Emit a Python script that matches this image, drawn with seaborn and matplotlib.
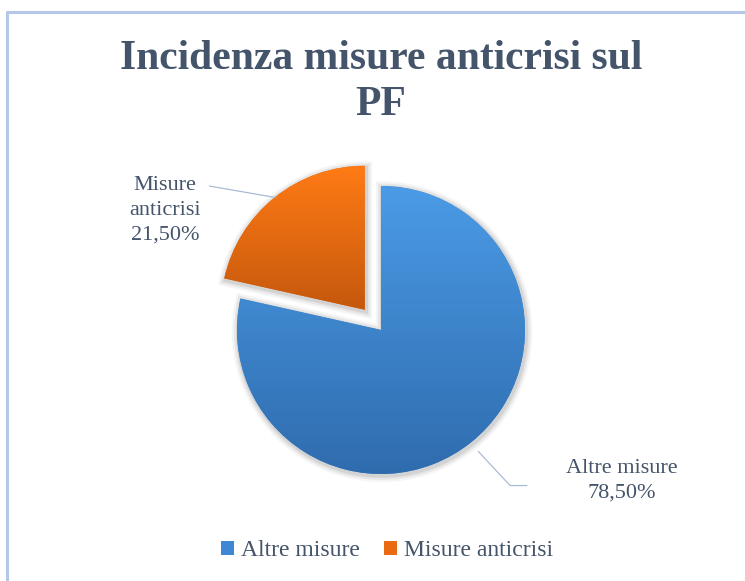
import numpy as np
import seaborn as sns
from matplotlib import pyplot as plt
from matplotlib.colors import LinearSegmentedColormap
from matplotlib.lines import Line2D
from matplotlib.patches import Patch, Wedge

categories = ["Altre misure", "Misure anticrisi"]
values = [78.5, 21.5]
value_labels = ["78,50%", "21,50%"]
label_texts = ["Altre misure", "Misure\nanticrisi"]
title = "Incidenza misure anticrisi sul\nPF"

top_colors = ["#4B9BE6", "#FF7B15"]
bottom_colors = ["#2F6CAE", "#C5580D"]
legend_colors = ["#3F87D4", "#E96A10"]
text_color = "#44546A"
line_color = "#A9BBD6"

sns.set_theme(style="white")
plt.rcParams["font.family"] = ["Liberation Serif", "DejaVu Serif"]

W, H = 745, 581
fig = plt.figure(figsize=(W / 100, H / 100), dpi=100)
fig.patch.set_facecolor("white")

# light blue frame, only the left and top edges are visible
frame_kw = dict(transform=fig.transFigure, color="#B4C7E7", lw=2.2)
fig.add_artist(Line2D([7 / W, 7 / W], [0, 1 - 12 / H], **frame_kw))
fig.add_artist(Line2D([7 / W, 1], [1 - 12 / H, 1 - 12 / H], **frame_kw))

# pie axes: centre (381, 330) px, radius 144 px, limits +-L
cx, cy, r = 381, 330, 144
L = 1.6
ax = fig.add_axes([(cx - L * r) / W, (H - cy - L * r) / H, 2 * L * r / W, 2 * L * r / H])
ax.set_axis_off()

explode = [0, 0.18]
wedges, _ = ax.pie(values, startangle=90, counterclock=False, explode=explode,
                   colors=legend_colors, radius=1,
                   wedgeprops=dict(linewidth=0))

for w, c_top, c_bot in zip(wedges, top_colors, bottom_colors):
    # soft shadow around the slice
    for lw, a in [(9, 0.04), (6, 0.06), (3, 0.08)]:
        sh = Wedge((w.center[0] + 0.008, w.center[1] - 0.012), w.r, w.theta1, w.theta2,
                   facecolor="none", edgecolor="black", lw=lw, alpha=a, zorder=0.5)
        ax.add_patch(sh)
    # vertical gradient inside the slice
    ext = w.get_path().get_extents()
    cmap = LinearSegmentedColormap.from_list("g", [c_bot, c_top])
    grad = np.linspace(0, 1, 256).reshape(-1, 1)
    im = ax.imshow(grad, extent=[ext.x0, ext.x1, ext.y0, ext.y1], origin="lower",
                   cmap=cmap, aspect="auto", zorder=2, interpolation="bilinear")
    im.set_clip_path(w)

ax.set_xlim(-L, L)
ax.set_ylim(-L, L)

# data labels with leader lines
label_pos = [(1.674, -1.05), (-1.5, 0.83)]
for i, w in enumerate(wedges):
    mid = np.deg2rad((w.theta1 + w.theta2) / 2)
    ox = explode[i] * np.cos(mid)
    oy = explode[i] * np.sin(mid)
    rr = 1.08 if i == 0 else 1.0
    xy = (ox + rr * np.cos(mid), oy + rr * np.sin(mid))
    txt = f"{label_texts[i]}\n{value_labels[i]}"
    if i == 0:
        conn = "angle,angleA=0,angleB=-47,rad=0"
        relpos, shrink = (0.0, 0.4), 26
    else:
        conn = "arc3,rad=0"
        relpos, shrink = (1.0, 0.88), 4
    ax.annotate(txt, xy=xy, xytext=label_pos[i], textcoords="data",
                ha="center", va="center", fontsize=16, color=text_color,
                linespacing=1.4, annotation_clip=False,
                arrowprops=dict(arrowstyle="-", color=line_color, lw=0.9,
                                connectionstyle=conn, relpos=relpos,
                                shrinkA=shrink, shrinkB=0))

fig.text(381 / W, 1 - 82 / H, title, ha="center", va="center",
         fontsize=30, fontweight="bold", color=text_color, linespacing=1.3)

handles = [Patch(facecolor=c, edgecolor="none", label=l)
           for c, l in zip(legend_colors, categories)]
leg = fig.legend(handles=handles, loc="center", bbox_to_anchor=(387 / W, 1 - 551 / H),
                 ncol=2, frameon=False, fontsize=17, handlelength=0.55,
                 handleheight=0.55, handletextpad=0.3, columnspacing=1.0)
for t in leg.get_texts():
    t.set_color(text_color)

fig.savefig("out.png", dpi=100, facecolor="white")
